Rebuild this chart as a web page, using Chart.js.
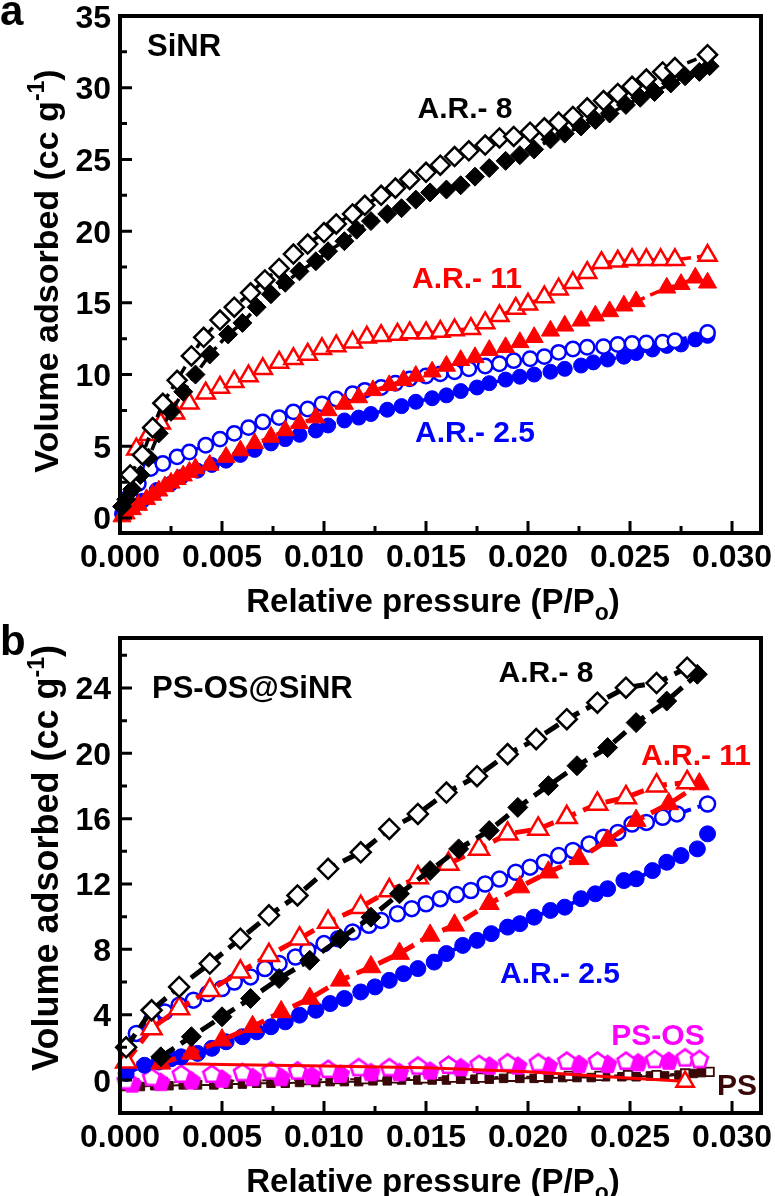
<!DOCTYPE html>
<html><head><meta charset="utf-8">
<script src="https://cdn.jsdelivr.net/npm/chart.js@4.4.0/dist/chart.umd.min.js"></script>
<style>
html,body{margin:0;padding:0;background:#fff;}
#wrap{position:relative;width:775px;height:1196px;overflow:hidden;background:#fff;}
canvas{position:absolute;left:0;}
#ca{top:0}
#cb{top:600px}
</style></head><body>
<div id="wrap"><canvas id="ca" width="775" height="630"></canvas><canvas id="cb" width="775" height="596"></canvas></div>
<script>
// ---------- tick arrays ----------
const X_TICKS = [0, 0.005, 0.010, 0.015, 0.020, 0.025, 0.030];
const X_TICK_LABELS = ['0.000', '0.005', '0.010', '0.015', '0.020', '0.025', '0.030'];
const X_MINOR = [0.0025, 0.0075, 0.0125, 0.0175, 0.0225, 0.0275];
const A_Y_TICKS = [0, 5, 10, 15, 20, 25, 30, 35];
const A_Y_TICK_LABELS = ['0', '5', '10', '15', '20', '25', '30', '35'];
const A_Y_MINOR = [2.5, 7.5, 12.5, 17.5, 22.5, 27.5, 32.5];
const B_Y_TICKS = [0, 4, 8, 12, 16, 20, 24];
const B_Y_TICK_LABELS = ['0', '4', '8', '12', '16', '20', '24'];
const B_Y_MINOR = [2, 6, 10, 14, 18, 22, 26];

// ---------- panel a (SiNR) ----------
const A_AR8_DES_X = [0.0005,0.0011,0.0016,0.0021,0.0028,0.0035,0.0041,0.0049,0.0056,0.0064,0.0071,0.0078,0.0085,0.0092,0.0100,0.0106,0.0114,0.0120,0.0128,0.0135,0.0142,0.0150,0.0157,0.0164,0.0171,0.0179,0.0186,0.0193,0.0201,0.0208,0.0215,0.0222,0.0229,0.0237,0.0244,0.0251,0.0258,0.0266,0.0272,0.0288];
const A_AR8_DES_Y = [3.0,4.4,6.3,8.0,9.6,11.3,12.6,13.8,14.7,15.7,16.6,17.4,18.4,19.1,19.9,20.5,21.2,21.8,22.5,23.0,23.6,24.1,24.6,25.2,25.6,26.0,26.5,26.6,26.9,27.2,27.6,28.0,28.6,29.1,29.6,30.1,30.6,31.1,31.4,32.3];
const A_AR8_ADS_X = [0.0001,0.0003,0.0006,0.0010,0.0014,0.0019,0.0025,0.0031,0.0037,0.0044,0.0053,0.0060,0.0067,0.0074,0.0081,0.0088,0.0096,0.0102,0.0110,0.0116,0.0123,0.0131,0.0138,0.0145,0.0152,0.0160,0.0167,0.0174,0.0181,0.0189,0.0196,0.0203,0.0211,0.0218,0.0226,0.0233,0.0240,0.0248,0.0255,0.0262,0.0270,0.0277,0.0284,0.0289];
const A_AR8_ADS_Y = [0.8,1.3,2.0,3.0,4.2,5.9,7.4,8.8,10.0,11.4,12.8,13.6,14.7,15.6,16.4,17.2,17.9,18.6,19.3,20.1,20.7,21.2,21.6,22.2,22.7,22.9,23.2,23.8,24.4,24.9,25.3,25.7,26.4,26.8,27.3,27.75,28.2,28.8,29.3,29.7,30.3,30.8,31.1,31.5];
const A_AR11_DES_X = [0.0008,0.0014,0.0020,0.0027,0.0034,0.0042,0.0049,0.0056,0.0063,0.0070,0.0078,0.0085,0.0092,0.0099,0.0106,0.0114,0.0121,0.0128,0.0136,0.0142,0.0150,0.0157,0.0164,0.0172,0.0179,0.0186,0.0194,0.0200,0.0208,0.0215,0.0222,0.0229,0.0236,0.0244,0.0251,0.0258,0.0265,0.0272,0.0288];
const A_AR11_DES_Y = [4.8,5.8,6.6,7.3,8.0,8.7,9.1,9.5,9.9,10.4,10.85,11.1,11.4,11.8,12.0,12.25,12.6,12.7,12.8,12.9,12.9,13.0,13.1,13.2,13.6,14.1,14.6,14.9,15.4,15.95,16.4,17.1,17.8,17.9,18.0,18.0,18.0,18.0,18.3];
const A_AR11_ADS_X = [0.0001,0.0003,0.0006,0.0009,0.0013,0.0016,0.0019,0.0022,0.0025,0.0028,0.0031,0.0034,0.0037,0.0044,0.0052,0.0059,0.0066,0.0074,0.0081,0.0088,0.0096,0.0102,0.0110,0.0117,0.0124,0.0132,0.0139,0.0145,0.0153,0.0160,0.0167,0.0174,0.0181,0.0189,0.0196,0.0203,0.0211,0.0218,0.0226,0.0233,0.0240,0.0247,0.0253,0.0268,0.0275,0.0282,0.0288];
const A_AR11_ADS_Y = [0.1,0.3,0.6,0.9,1.3,1.6,1.9,2.2,2.45,2.7,2.95,3.2,3.45,3.7,4.25,4.7,5.2,5.65,6.1,6.6,7.0,7.5,7.95,8.4,8.9,9.25,9.6,9.9,10.2,10.6,11.0,11.2,11.7,11.9,12.25,12.6,13.05,13.4,13.75,14.1,14.4,14.8,15.1,16.05,16.3,16.75,16.4];
const A_AR25_DES_X = [0.0002,0.0005,0.0009,0.0015,0.0021,0.0028,0.0034,0.0042,0.0049,0.0056,0.0063,0.0070,0.0078,0.0085,0.0092,0.0099,0.0106,0.0114,0.0120,0.0128,0.0135,0.0142,0.0150,0.0157,0.0164,0.0171,0.0179,0.0186,0.0193,0.0201,0.0208,0.0215,0.0222,0.0229,0.0237,0.0244,0.0251,0.0258,0.0266,0.0272,0.0288];
const A_AR25_DES_Y = [0.8,1.6,2.4,3.45,3.8,4.26,4.6,5.07,5.5,5.9,6.3,6.7,7.0,7.4,7.6,7.96,8.3,8.66,8.9,9.1,9.4,9.7,9.9,10.05,10.2,10.4,10.6,10.75,10.97,11.1,11.25,11.55,11.78,11.9,11.95,12.1,12.17,12.2,12.25,12.36,12.94];
const A_AR25_ADS_X = [0.0001,0.0003,0.0006,0.0011,0.0018,0.0025,0.0030,0.0038,0.0045,0.0052,0.0059,0.0066,0.0074,0.0081,0.0088,0.0096,0.0102,0.0110,0.0117,0.0123,0.0131,0.0138,0.0145,0.0153,0.0160,0.0167,0.0175,0.0181,0.0189,0.0196,0.0203,0.0211,0.0218,0.0226,0.0232,0.0239,0.0247,0.0253,0.0261,0.0268,0.0275,0.0282,0.0288];
const A_AR25_ADS_Y = [0.3,0.6,0.9,1.2,1.95,2.4,2.85,3.3,3.7,4.0,4.4,4.75,5.2,5.5,5.8,6.1,6.45,6.8,7.0,7.25,7.55,7.8,8.1,8.35,8.55,8.85,9.1,9.4,9.65,9.85,10.0,10.2,10.4,10.63,10.85,11.05,11.25,11.5,11.75,12.0,12.1,12.45,12.7];

// ---------- panel b (PS-OS@SiNR) ----------
const B_AR8_DES_X = [0.0003,0.00155,0.0029,0.0044,0.0059,0.0073,0.0087,0.0102,0.0118,0.0132,0.0146,0.0160,0.0175,0.0190,0.0204,0.0219,0.0234,0.0248,0.0263,0.0278];
const B_AR8_DES_Y = [2.0,4.27,5.7,7.13,8.65,10.08,11.3,12.93,13.94,15.37,16.29,17.6,18.6,19.95,20.87,22.09,23.1,24.02,24.3,25.24];
const B_AR8_ADS_X = [0.0020,0.0035,0.0050,0.0064,0.0078,0.0093,0.0108,0.0123,0.0137,0.0152,0.0166,0.0181,0.0195,0.0210,0.0224,0.0239,0.0253,0.0268,0.0283];
const B_AR8_ADS_Y = [1.42,2.65,3.87,4.99,6.21,7.33,8.65,9.97,11.4,12.82,14.15,15.27,16.69,18.02,19.24,20.35,21.88,23.2,24.84];
const B_AR11_DES_X = [0.0003,0.00155,0.0029,0.0044,0.0059,0.0073,0.0088,0.0102,0.0118,0.0132,0.0146,0.0161,0.0176,0.0190,0.0205,0.0219,0.0234,0.0248,0.0263,0.0278];
const B_AR11_DES_Y = [1.12,3.16,4.38,5.5,6.62,7.63,8.65,9.67,10.58,11.6,12.4,13.23,14.15,15.07,15.37,16.08,16.9,17.3,18.02,18.22];
const B_AR11_ADS_X = [0.0020,0.0035,0.0050,0.0065,0.0079,0.0093,0.0108,0.0123,0.0137,0.0152,0.0164,0.0181,0.0196,0.0210,0.0225,0.0239,0.0253,0.0269,0.0284];
const B_AR11_ADS_Y = [1.02,1.63,2.44,3.26,4.17,4.99,6.1,6.92,7.74,8.85,9.47,10.79,11.81,12.72,13.54,14.66,15.88,16.9,18.12];
const B_AR25_DES_X = [0.0003,0.0008,0.00155,0.0022,0.0029,0.0036,0.0043,0.0050,0.0056,0.0064,0.0071,0.0078,0.0086,0.0092,0.0100,0.0107,0.0114,0.0122,0.0128,0.0136,0.0143,0.0150,0.0157,0.0165,0.0172,0.0179,0.0186,0.0194,0.0201,0.0208,0.0215,0.0222,0.0230,0.0237,0.0244,0.0251,0.0258,0.0266,0.0273,0.0288];
const B_AR25_DES_Y = [1.9,2.85,3.66,4.17,4.58,4.89,5.29,5.6,6.0,6.31,6.82,7.13,7.53,7.94,8.35,8.65,9.06,9.47,9.77,10.18,10.49,10.79,11.1,11.35,11.6,12.0,12.3,12.72,13.03,13.33,13.74,14.05,14.45,14.86,15.16,15.67,15.77,16.08,16.29,16.9];
const B_AR25_ADS_X = [0.0003,0.0012,0.0019,0.0025,0.0030,0.0038,0.0045,0.0052,0.0060,0.0067,0.0074,0.0081,0.0088,0.0096,0.0103,0.0110,0.0118,0.0125,0.0132,0.0139,0.0146,0.0154,0.0160,0.0168,0.0175,0.0182,0.0190,0.0196,0.0203,0.0211,0.0218,0.0226,0.0233,0.0239,0.0247,0.0253,0.0261,0.0268,0.0275,0.0283,0.0288];
const B_AR25_ADS_Y = [0.4,0.9,1.1,1.3,1.42,1.63,1.94,2.34,2.65,2.95,3.26,3.56,3.97,4.27,4.68,4.99,5.39,5.7,6.1,6.51,6.82,7.22,7.74,8.24,8.55,8.96,9.36,9.57,9.97,10.38,10.58,11.1,11.4,11.71,12.21,12.32,12.82,13.33,13.74,14.15,15.07];
const B_PSOS_DES_X = [0.0003,0.00155,0.0030,0.0045,0.0060,0.0074,0.0087,0.0102,0.0117,0.0132,0.0146,0.0161,0.0176,0.0190,0.0205,0.0219,0.0234,0.0248,0.0262,0.0277,0.0284];
const B_PSOS_DES_Y = [0.0,0.2,0.4,0.4,0.5,0.6,0.6,0.7,0.8,0.8,0.9,0.95,1.0,1.1,1.1,1.2,1.2,1.2,1.3,1.4,1.3];
const B_PSOS_ADS_X = [0.0006,0.0020,0.0035,0.0050,0.0065,0.0079,0.0094,0.0108,0.0123,0.0137,0.0152,0.0167,0.0181,0.0195,0.0210,0.0225,0.0239,0.0254,0.0269];
const B_PSOS_ADS_Y = [-0.2,-0.1,0.0,0.1,0.2,0.2,0.3,0.4,0.5,0.5,0.6,0.8,0.9,0.9,0.9,1.0,1.0,1.1,1.2];
const B_PS_ADS_X = [0.0003,0.0010,0.0017,0.0024,0.0031,0.0038,0.0046,0.0053,0.0060,0.0067,0.0074,0.0081,0.0088,0.0096,0.0103,0.0110,0.0117,0.0124,0.0131,0.0138,0.0146,0.0153,0.0160,0.0167,0.0174,0.0181,0.0188,0.0196,0.0203,0.0210,0.0217,0.0224,0.0231,0.0238,0.0246,0.0253,0.0260,0.0267,0.0274,0.0281,0.0285];
const B_PS_ADS_Y = [-0.4,-0.4,-0.35,-0.35,-0.3,-0.3,-0.3,-0.25,-0.25,-0.2,-0.2,-0.2,-0.15,-0.15,-0.1,-0.1,-0.1,-0.05,-0.05,0.0,0.0,0.0,0.0,0.05,0.05,0.05,0.1,0.1,0.1,0.1,0.15,0.15,0.15,0.2,0.2,0.2,0.25,0.25,0.3,0.4,0.45];
const B_PS_DES_X = [0.0007,0.0021,0.0035,0.0049,0.0063,0.0078,0.0092,0.0106,0.0120,0.0135,0.0149,0.0163,0.0177,0.0192,0.0206,0.0220,0.0235,0.0249,0.0263,0.0277,0.0289];
const B_PS_DES_Y = [-0.2,-0.15,-0.1,-0.05,-0.05,0.0,0.0,0.05,0.05,0.1,0.1,0.15,0.15,0.2,0.2,0.25,0.25,0.3,0.3,0.4,0.5];
const B_RED_LINE_X = [0.0008,0.0050,0.0100,0.0150,0.0200,0.0245,0.0272,0.0277];
const B_RED_LINE_Y = [1.05,0.95,0.85,0.75,0.5,0.15,-0.05,-0.1];

// ---------- styles ----------
const BLACK = '#000000', RED = '#ff0000', BLUE = '#0000ff', MAGENTA = '#ff00ff', BROWN = '#3a0808';
const FONTFAM = '"Liberation Sans", Arial, Helvetica, sans-serif';
function F(sz) { return 'bold ' + sz + 'px ' + FONTFAM; }
function zip(xs, ys) { return xs.map((x, i) => ({ x: x, y: ys[i] })); }

function pentagon(size, fill, stroke, lw) {
  const c = document.createElement('canvas');
  c.width = size; c.height = size;
  const g = c.getContext('2d');
  const cx = size / 2, cy = size / 2 + 1, r = size / 2 - lw / 2 - 0.3;
  g.beginPath();
  for (let i = 0; i < 5; i++) {
    const a = -Math.PI / 2 + i * 2 * Math.PI / 5;
    const px = cx + r * Math.cos(a), py = cy + r * Math.sin(a);
    if (i === 0) g.moveTo(px, py); else g.lineTo(px, py);
  }
  g.closePath();
  g.fillStyle = fill; g.fill();
  g.lineWidth = lw; g.strokeStyle = stroke; g.stroke();
  return c;
}

function ds(xs, ys, o) {
  return Object.assign({
    data: zip(xs, ys), showLine: true, clip: false,
    borderWidth: 3.5, borderDash: [10, 6], pointBorderWidth: 2.5
  }, o);
}

function drawRich(ctx, parts, x, y, align) {
  let total = 0;
  parts.forEach(p => { ctx.font = F(p.s); p.w = ctx.measureText(p.t).width; total += p.w; });
  let cx = align === 'center' ? x - total / 2 : (align === 'right' ? x - total : x);
  ctx.textAlign = 'left';
  parts.forEach(p => { ctx.font = F(p.s); ctx.fillText(p.t, cx, y + (p.dy || 0)); cx += p.w; });
}

function axesPlugin(cfg) {
  return {
    id: 'axes_' + cfg.name,
    afterDraw(chart) {
      const ctx = chart.ctx, a = chart.chartArea, xs = chart.scales.x, ys = chart.scales.y;
      const off = cfg.offsetTop;
      ctx.save();
      ctx.strokeStyle = '#000'; ctx.lineCap = 'butt';
      ctx.lineWidth = 3;
      ctx.beginPath();
      X_TICKS.forEach(v => { const p = xs.getPixelForValue(v); ctx.moveTo(p, a.bottom); ctx.lineTo(p, a.bottom - 12); });
      X_MINOR.forEach(v => { const p = xs.getPixelForValue(v); ctx.moveTo(p, a.bottom); ctx.lineTo(p, a.bottom - 7); });
      cfg.yTicks.forEach(v => { const p = ys.getPixelForValue(v); ctx.moveTo(a.left, p); ctx.lineTo(a.left + 12, p); });
      cfg.yMinor.forEach(v => { const p = ys.getPixelForValue(v); ctx.moveTo(a.left, p); ctx.lineTo(a.left + 7, p); });
      ctx.stroke();
      ctx.lineWidth = 4;
      ctx.strokeRect(a.left, a.top, a.right - a.left, a.bottom - a.top);

      ctx.fillStyle = '#000';
      ctx.font = F(32); ctx.textBaseline = 'alphabetic';
      ctx.textAlign = 'center';
      X_TICKS.forEach((v, i) => ctx.fillText(X_TICK_LABELS[i], xs.getPixelForValue(v), a.bottom + 34));
      ctx.textAlign = 'right';
      cfg.yTicks.forEach((v, i) => ctx.fillText(cfg.yLabels[i], a.left - 9, ys.getPixelForValue(v) + 11.5));

      // axis titles
      drawRich(ctx, [{ t: 'Relative pressure (P/P', s: 33 }, { t: 'o', s: 23, dy: 8 }, { t: ')', s: 33 }],
        cfg.xTitle[0], cfg.xTitle[1] - off, 'center');
      ctx.save();
      ctx.translate(cfg.yTitle[0], cfg.yTitle[1] - off);
      ctx.rotate(-Math.PI / 2);
      drawRich(ctx, [{ t: 'Volume adsorbed (cc g', s: cfg.yTitleSize }, { t: '-1', s: 23, dy: -14 }, { t: ')', s: cfg.yTitleSize }], 0, 0, 'center');
      ctx.restore();

      // annotations
      cfg.notes.forEach(n => {
        ctx.fillStyle = n.c; ctx.font = F(n.s); ctx.textAlign = n.a;
        ctx.fillText(n.t, n.x, n.y - off);
      });
      ctx.restore();
    }
  };
}

function makeChart(id, datasets, yMin, yMax, pad, plugin) {
  return new Chart(document.getElementById(id), {
    type: 'scatter',
    data: { datasets: datasets },
    options: {
      responsive: false, animation: false, devicePixelRatio: 1,
      layout: { padding: pad },
      plugins: { legend: { display: false }, tooltip: { enabled: false } },
      scales: {
        x: { type: 'linear', min: 0, max: 0.03142, display: false },
        y: { type: 'linear', min: yMin, max: yMax, display: false }
      }
    },
    plugins: [plugin]
  });
}

// ---------- chart a ----------
const dsA = [
  ds(A_AR25_ADS_X, A_AR25_ADS_Y, { order: 6, borderColor: BLUE, pointStyle: 'circle', pointRadius: 7.5, pointBackgroundColor: BLUE, pointBorderColor: BLUE, pointBorderWidth: 1 }),
  ds(A_AR25_DES_X, A_AR25_DES_Y, { order: 5, borderColor: BLUE, pointStyle: 'circle', pointRadius: 7.2, pointBackgroundColor: '#fff', pointBorderColor: BLUE }),
  ds(A_AR11_ADS_X, A_AR11_ADS_Y, { order: 4, borderColor: RED, pointStyle: 'triangle', pointRadius: 10.5, pointBackgroundColor: RED, pointBorderColor: RED, pointBorderWidth: 1 }),
  ds(A_AR11_DES_X, A_AR11_DES_Y, { order: 3, borderColor: RED, pointStyle: 'triangle', pointRadius: 10.5, pointBackgroundColor: '#fff', pointBorderColor: RED }),
  ds(A_AR8_ADS_X, A_AR8_ADS_Y, { order: 2, borderColor: BLACK, pointStyle: 'rectRot', pointRadius: 9.5, pointBackgroundColor: BLACK, pointBorderColor: BLACK, pointBorderWidth: 1 }),
  ds(A_AR8_DES_X, A_AR8_DES_Y, { order: 1, borderColor: BLACK, pointStyle: 'rectRot', pointRadius: 9.5, pointBackgroundColor: '#fff', pointBorderColor: BLACK })
];
makeChart('ca', dsA, -1.046, 35, { left: 120, top: 16, right: 14, bottom: 97 }, axesPlugin({
  name: 'a', offsetTop: 0, yTicks: A_Y_TICKS, yLabels: A_Y_TICK_LABELS, yMinor: A_Y_MINOR,
  xTitle: [433, 612], yTitle: [58, 271], yTitleSize: 34,
  notes: [
    { t: 'a', x: 0, y: 25, s: 42, c: BLACK, a: 'left' },
    { t: 'SiNR', x: 147, y: 56, s: 31, c: BLACK, a: 'left' },
    { t: 'A.R.- 8', x: 465, y: 118, s: 30, c: BLACK, a: 'center' },
    { t: 'A.R.- 11', x: 467, y: 288, s: 30, c: RED, a: 'center' },
    { t: 'A.R.- 2.5', x: 475, y: 442, s: 30, c: BLUE, a: 'center' }
  ]
}));

// ---------- chart b ----------
const pentOpen = pentagon(21, '#ffffff', MAGENTA, 2.6);
const pentFill = pentagon(21, MAGENTA, MAGENTA, 1);
const dsB = [
  ds(B_PS_ADS_X, B_PS_ADS_Y, { order: 12, borderColor: BROWN, borderWidth: 2, borderDash: [], pointStyle: 'rect', pointRadius: 6, pointBackgroundColor: BROWN, pointBorderColor: BROWN, pointBorderWidth: 1 }),
  ds(B_PS_DES_X, B_PS_DES_Y, { order: 11, borderColor: BROWN, borderWidth: 2, borderDash: [4, 4], pointStyle: 'rect', pointRadius: 6, pointBackgroundColor: '#fff', pointBorderColor: BROWN, pointBorderWidth: 1.8 }),
  ds(B_PSOS_ADS_X, B_PSOS_ADS_Y, { order: 10, showLine: false, pointStyle: pentFill }),
  ds(B_PSOS_DES_X, B_PSOS_DES_Y, { order: 9, showLine: false, pointStyle: pentOpen }),
  ds(B_RED_LINE_X, B_RED_LINE_Y, { order: 8, borderColor: RED, borderWidth: 3, borderDash: [], pointStyle: 'triangle',
    pointRadius: B_RED_LINE_X.map((v, i) => i === B_RED_LINE_X.length - 1 ? 10 : 0), pointBackgroundColor: '#fff', pointBorderColor: RED }),
  ds(B_AR25_ADS_X, B_AR25_ADS_Y, { order: 7, borderColor: BLUE, borderWidth: 4, borderDash: [12, 7], pointStyle: 'circle', pointRadius: 8, pointBackgroundColor: BLUE, pointBorderColor: BLUE, pointBorderWidth: 1 }),
  ds(B_AR25_DES_X, B_AR25_DES_Y, { order: 6, borderColor: BLUE, borderWidth: 4, borderDash: [12, 7], pointStyle: 'circle', pointRadius: 7.5, pointBackgroundColor: '#fff', pointBorderColor: BLUE }),
  ds(B_AR11_ADS_X, B_AR11_ADS_Y, { order: 5, borderColor: RED, borderWidth: 5, borderDash: [16, 8], pointStyle: 'triangle', pointRadius: 11.5, pointBackgroundColor: RED, pointBorderColor: RED, pointBorderWidth: 1 }),
  ds(B_AR11_DES_X, B_AR11_DES_Y, { order: 4, borderColor: RED, borderWidth: 5, borderDash: [16, 8], pointStyle: 'triangle', pointRadius: 11.5, pointBackgroundColor: '#fff', pointBorderColor: RED }),
  ds(B_AR8_ADS_X, B_AR8_ADS_Y, { order: 3, borderColor: BLACK, borderWidth: 5, borderDash: [16, 8], pointStyle: 'rectRot', pointRadius: 10, pointBackgroundColor: BLACK, pointBorderColor: BLACK, pointBorderWidth: 1 }),
  ds(B_AR8_DES_X, B_AR8_DES_Y, { order: 2, borderColor: BLACK, borderWidth: 5, borderDash: [16, 8], pointStyle: 'rectRot', pointRadius: 10, pointBackgroundColor: '#fff', pointBorderColor: BLACK })
];
makeChart('cb', dsB, -2.02, 27.06, { left: 120, top: 38, right: 13, bottom: 83 }, axesPlugin({
  name: 'b', offsetTop: 600, yTicks: B_Y_TICKS, yLabels: B_Y_TICK_LABELS, yMinor: B_Y_MINOR,
  xTitle: [433, 1192], yTitle: [58, 858], yTitleSize: 36,
  notes: [
    { t: 'b', x: 0, y: 655, s: 42, c: BLACK, a: 'left' },
    { t: 'PS-OS@SiNR', x: 152, y: 698, s: 31, c: BLACK, a: 'left' },
    { t: 'A.R.- 8', x: 546, y: 682, s: 30, c: BLACK, a: 'center' },
    { t: 'A.R.- 11', x: 696, y: 765, s: 30, c: RED, a: 'center' },
    { t: 'A.R.- 2.5', x: 560, y: 983, s: 30, c: BLUE, a: 'center' },
    { t: 'PS-OS', x: 658, y: 1045, s: 30, c: MAGENTA, a: 'center' },
    { t: 'PS', x: 737, y: 1095, s: 30, c: BROWN, a: 'center' }
  ]
}));
</script>
</body></html>
